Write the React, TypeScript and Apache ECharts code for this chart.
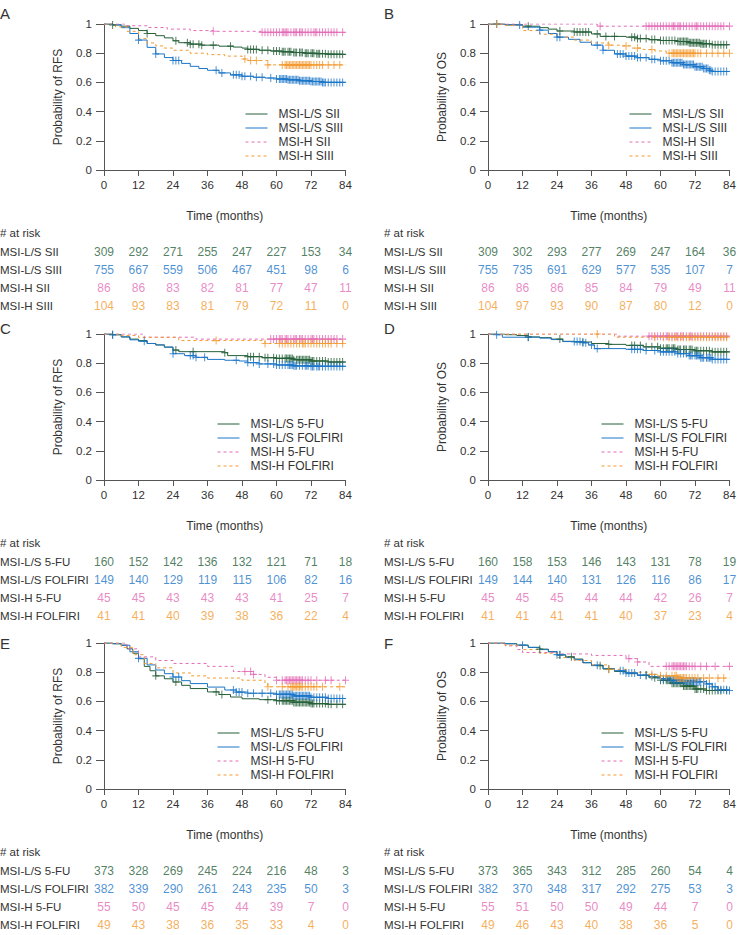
import React, { useEffect, useRef } from "react";
import * as echarts from "echarts";

const FONT = '"Liberation Sans", Arial, Helvetica, sans-serif';
const TEXT = "#333333";
const AXIS = "#555555";
const COLORS = ["#26603a", "#1c76c8", "#e36cb7", "#f39a30"];

const timeTicks = [0, 12, 24, 36, 48, 60, 72, 84];
const stageGroups = ["MSI-L/S SII", "MSI-L/S SIII", "MSI-H SII", "MSI-H SIII"];
const trtGroups = ["MSI-L/S 5-FU", "MSI-L/S FOLFIRI", "MSI-H 5-FU", "MSI-H FOLFIRI"];

// ---------- numbers at risk ----------
const riskA = [[309, 292, 271, 255, 247, 227, 153, 34], [755, 667, 559, 506, 467, 451, 98, 6], [86, 86, 83, 82, 81, 77, 47, 11], [104, 93, 83, 81, 79, 72, 11, 0]];
const riskB = [[309, 302, 293, 277, 269, 247, 164, 36], [755, 735, 691, 629, 577, 535, 107, 7], [86, 86, 86, 85, 84, 79, 49, 11], [104, 97, 93, 90, 87, 80, 12, 0]];
const riskC = [[160, 152, 142, 136, 132, 121, 71, 18], [149, 140, 129, 119, 115, 106, 82, 16], [45, 45, 43, 43, 43, 41, 25, 7], [41, 41, 40, 39, 38, 36, 22, 4]];
const riskD = [[160, 158, 153, 146, 143, 131, 78, 19], [149, 144, 140, 131, 126, 116, 86, 17], [45, 45, 45, 44, 44, 42, 26, 7], [41, 41, 41, 41, 40, 37, 23, 4]];
const riskE = [[373, 328, 269, 245, 224, 216, 48, 3], [382, 339, 290, 261, 243, 235, 50, 3], [55, 50, 45, 45, 44, 39, 7, 0], [49, 43, 38, 36, 35, 33, 4, 0]];
const riskF = [[373, 365, 343, 312, 285, 260, 54, 4], [382, 370, 348, 317, 292, 275, 53, 3], [55, 51, 50, 50, 49, 44, 7, 0], [49, 46, 43, 40, 38, 36, 5, 0]];

// ---------- survival curves [month, probability] ----------
const curveA1 = [[0, 1], [3, 0.993], [6, 0.985], [9, 0.97], [12, 0.955], [15, 0.935], [18, 0.92], [21, 0.905], [24, 0.885], [26, 0.872], [30, 0.862], [34, 0.855], [40, 0.848], [45, 0.842], [48, 0.835], [50, 0.826], [54, 0.82], [58, 0.815], [62, 0.81], [66, 0.805], [70, 0.8], [74, 0.796], [78, 0.792], [84, 0.792]];
const curveA2 = [[0, 1], [3, 0.995], [6, 0.975], [9, 0.935], [12, 0.89], [15, 0.84], [18, 0.795], [21, 0.77], [24, 0.75], [27, 0.73], [30, 0.71], [33, 0.695], [36, 0.683], [40, 0.665], [44, 0.652], [48, 0.642], [52, 0.635], [56, 0.63], [60, 0.623], [64, 0.618], [68, 0.612], [72, 0.606], [76, 0.6], [84, 0.598]];
const curveA3 = [[0, 1], [8, 0.988], [15, 0.976], [22, 0.965], [30, 0.955], [38, 0.95], [55, 0.943], [84, 0.943]];
const curveA4 = [[0, 1], [4, 0.98], [8, 0.95], [12, 0.9], [15, 0.87], [18, 0.85], [21, 0.835], [24, 0.82], [30, 0.8], [36, 0.79], [42, 0.78], [48, 0.76], [50, 0.75], [57, 0.72], [84, 0.72]];

const curveB1 = [[0, 1], [6, 0.995], [12, 0.985], [18, 0.975], [21, 0.965], [24, 0.952], [30, 0.945], [36, 0.932], [39, 0.915], [48, 0.91], [52, 0.9], [56, 0.893], [60, 0.887], [66, 0.88], [70, 0.872], [74, 0.865], [78, 0.858], [84, 0.855]];
const curveB2 = [[0, 1], [6, 0.993], [12, 0.978], [18, 0.958], [21, 0.935], [24, 0.91], [28, 0.895], [32, 0.875], [36, 0.855], [40, 0.82], [44, 0.795], [48, 0.78], [52, 0.77], [56, 0.758], [60, 0.748], [64, 0.735], [68, 0.722], [72, 0.708], [75, 0.695], [77, 0.683], [78, 0.675], [84, 0.675]];
const curveB3 = [[0, 1], [36, 1], [38, 0.985], [84, 0.985]];
const curveB4 = [[0, 1], [6, 0.99], [12, 0.955], [18, 0.93], [24, 0.91], [30, 0.89], [36, 0.87], [42, 0.855], [46, 0.85], [50, 0.835], [54, 0.825], [58, 0.815], [62, 0.8], [84, 0.8]];

const curveC1 = [[0, 1], [3, 0.995], [6, 0.98], [9, 0.965], [12, 0.955], [15, 0.935], [18, 0.925], [21, 0.91], [24, 0.89], [26, 0.879], [42, 0.872], [43, 0.852], [50, 0.845], [55, 0.838], [60, 0.833], [66, 0.824], [72, 0.815], [78, 0.808], [84, 0.804]];
const curveC2 = [[0, 1], [3, 0.995], [6, 0.98], [9, 0.96], [12, 0.95], [15, 0.935], [18, 0.925], [21, 0.91], [24, 0.865], [28, 0.852], [32, 0.84], [36, 0.826], [42, 0.82], [47, 0.815], [50, 0.804], [54, 0.795], [60, 0.788], [66, 0.782], [72, 0.778], [84, 0.776]];
const curveC3 = [[0, 1], [14, 0.978], [32, 0.965], [84, 0.965]];
const curveC4 = [[0, 1], [6, 0.99], [12, 0.977], [26, 0.955], [55, 0.955], [56, 0.935], [84, 0.935]];

const curveD1 = [[0, 1], [6, 0.995], [10, 0.99], [14, 0.98], [18, 0.975], [22, 0.965], [26, 0.95], [30, 0.945], [36, 0.935], [42, 0.929], [48, 0.922], [54, 0.912], [60, 0.902], [66, 0.894], [72, 0.885], [78, 0.878], [84, 0.874]];
const curveD2 = [[0, 1], [3, 0.995], [5, 0.978], [18, 0.972], [22, 0.962], [26, 0.948], [33, 0.94], [35, 0.925], [37, 0.9], [48, 0.895], [54, 0.887], [60, 0.878], [66, 0.866], [70, 0.852], [74, 0.838], [78, 0.826], [84, 0.824]];
const curveD3 = [[0, 1], [45, 0.985], [84, 0.985]];
const curveD4 = [[0, 1], [42, 1], [44, 0.978], [84, 0.978]];

const curveE1 = [[0, 1], [3, 0.995], [6, 0.985], [8, 0.96], [10, 0.93], [12, 0.892], [14, 0.84], [16, 0.81], [18, 0.775], [21, 0.755], [24, 0.733], [27, 0.71], [30, 0.688], [36, 0.665], [40, 0.647], [44, 0.63], [48, 0.618], [54, 0.612], [60, 0.605], [66, 0.593], [72, 0.585], [78, 0.58], [84, 0.578]];
const curveE2 = [[0, 1], [3, 0.995], [6, 0.985], [9, 0.94], [12, 0.895], [15, 0.85], [18, 0.815], [21, 0.79], [24, 0.767], [27, 0.742], [30, 0.722], [36, 0.698], [42, 0.678], [46, 0.664], [50, 0.656], [60, 0.648], [66, 0.638], [72, 0.628], [78, 0.62], [84, 0.618]];
const curveE3 = [[0, 1], [8, 0.96], [12, 0.905], [18, 0.88], [24, 0.86], [36, 0.84], [45, 0.805], [52, 0.785], [56, 0.765], [60, 0.745], [84, 0.745]];
const curveE4 = [[0, 1], [6, 0.97], [10, 0.92], [14, 0.86], [18, 0.83], [24, 0.795], [30, 0.775], [36, 0.76], [48, 0.745], [56, 0.72], [57, 0.7], [84, 0.7]];

const curveF1 = [[0, 1], [6, 0.995], [10, 0.985], [14, 0.97], [18, 0.958], [21, 0.94], [24, 0.918], [27, 0.905], [30, 0.89], [33, 0.865], [36, 0.845], [40, 0.822], [44, 0.805], [48, 0.79], [52, 0.778], [56, 0.762], [60, 0.745], [64, 0.725], [68, 0.705], [72, 0.685], [76, 0.675], [84, 0.67]];
const curveF2 = [[0, 1], [6, 0.995], [10, 0.985], [14, 0.97], [18, 0.955], [21, 0.94], [24, 0.92], [27, 0.9], [30, 0.885], [33, 0.865], [36, 0.848], [40, 0.825], [44, 0.81], [48, 0.795], [52, 0.78], [56, 0.77], [60, 0.755], [64, 0.745], [68, 0.74], [72, 0.735], [76, 0.72], [78, 0.7], [80, 0.68], [84, 0.675]];
const curveF3 = [[0, 1], [6, 0.98], [10, 0.955], [12, 0.935], [24, 0.925], [36, 0.915], [48, 0.893], [52, 0.87], [56, 0.84], [84, 0.84]];
const curveF4 = [[0, 1], [6, 0.985], [12, 0.955], [18, 0.93], [24, 0.9], [30, 0.88], [36, 0.85], [42, 0.82], [48, 0.8], [56, 0.785], [60, 0.775], [66, 0.76], [84, 0.76]];

// ---------- censoring times (months) ----------
const censA1 = [3, 15, 25, 29, 30, 31, 33, 34, 38, 44, 50, 51, 52, 53, 55, 57, 59, 60, 61, 62, 62.5, 63, 64, 64.5, 65, 66, 66.5, 67, 68, 68.5, 69, 70, 70.5, 71, 72, 72.5, 73, 74, 74.5, 75, 76, 77, 78, 79, 80, 81, 82, 83];
const censA2 = [12, 18, 24, 25, 26, 39, 41, 45, 46, 47, 48, 49, 51, 53, 55, 58, 60, 61, 61.5, 62, 62.5, 63, 63.5, 64, 64.5, 65, 65.5, 66, 66.5, 67, 67.5, 68, 68.5, 69, 69.5, 70, 70.5, 71, 71.5, 72, 72.5, 73, 73.5, 74, 74.5, 75, 75.5, 76, 76.5, 77, 78, 79, 80, 81, 82, 83];
const censA3 = [38, 55, 56, 57, 58, 59, 60, 61, 62, 62.5, 63, 63.5, 64, 65, 66, 66.5, 67, 68, 68.5, 69, 70, 71, 72, 73, 73.5, 74, 75, 76, 77, 78, 79, 80, 81, 83];
const censA4 = [49, 51, 53, 57, 62, 63, 63.5, 64, 64.5, 65, 65.5, 66, 66.5, 67, 67.5, 68, 68.5, 69, 69.5, 70, 70.5, 71, 71.5, 72, 73, 74, 75, 76, 78, 80, 82];

const censB1 = [3, 14, 25, 30, 31, 32, 33, 34, 35, 38, 41, 44, 50, 51, 52, 53, 55, 57, 58, 60, 61, 62, 63, 64, 65, 66, 66.5, 67, 67.5, 68, 68.5, 69, 69.5, 70, 70.5, 71, 71.5, 72, 72.5, 73, 73.5, 74, 74.5, 75, 75.5, 76, 77, 78, 79, 80, 81, 82, 83];
const censB2 = [3, 11, 18, 24, 25, 38, 40, 45, 46, 47, 48, 49, 50, 51, 52, 53, 55, 57, 58, 60, 61, 62, 63, 64, 64.5, 65, 65.5, 66, 66.5, 67, 67.5, 68, 68.5, 69, 69.5, 70, 70.5, 71, 71.5, 72, 72.5, 73, 73.5, 74, 74.5, 75, 75.5, 76, 76.5, 77, 77.5, 78, 79, 80, 81, 82, 83];
const censB3 = [39, 55, 56, 57, 58, 59, 60, 61, 62, 63, 64, 64.5, 65, 66, 66.5, 67, 68, 69, 70, 71, 72, 72.5, 73, 74, 75, 76, 77, 78, 79, 80, 81, 82, 84];
const censB4 = [3, 42, 48, 52, 57, 63, 64, 64.5, 65, 65.5, 66, 66.5, 67, 67.5, 68, 68.5, 69, 69.5, 70, 70.5, 71, 71.5, 72, 73, 74, 76, 78, 80, 82, 84];

const censC1 = [3, 25, 31, 42, 50, 51, 52, 54, 56, 57, 59, 60, 61, 62, 63, 63.5, 64, 64.5, 65, 65.5, 66, 67, 67.5, 68, 68.5, 69, 69.5, 70, 70.5, 71, 71.5, 72, 72.5, 73, 74, 75, 76, 77, 78, 79, 80, 81, 82, 83];
const censC2 = [3, 14, 24, 30, 31, 32, 35, 46, 50, 52, 54, 57, 59, 60, 61, 62, 63, 64, 64.5, 65, 65.5, 66, 66.5, 67, 68, 69, 70, 70.5, 71, 72, 72.5, 73, 74, 74.5, 75, 76, 77, 78, 79, 80, 81, 82, 83];
const censC3 = [58, 59, 60, 61, 61.5, 62, 63, 63.5, 64, 65, 66, 66.5, 67, 68, 68.5, 69, 70, 71, 72, 72.5, 73, 74, 75, 76, 77, 78, 79, 80, 81, 83];
const censC4 = [39, 56, 61, 62, 63, 64, 65, 66, 67, 68, 69, 69.5, 70, 71, 72, 73, 74, 75, 76, 77, 78, 79, 81, 83];

const censD1 = [14, 25, 33, 42, 50, 51, 53, 55, 57, 59, 60, 61, 62, 62.5, 63, 64, 64.5, 65, 66, 66.5, 67, 68, 68.5, 69, 70, 70.5, 71, 72, 72.5, 73, 74, 75, 76, 77, 78, 79, 80, 81, 82, 83];
const censD2 = [3, 14, 30, 31, 32, 33, 34, 36, 38, 50, 51, 52, 53, 55, 58, 60, 61, 62, 63, 64, 65, 66, 67, 68, 69, 70, 70.5, 71, 72, 72.5, 73, 73.5, 74, 74.5, 75, 76, 76.5, 77, 77.5, 78, 79, 80, 81, 82, 83];
const censD3 = [56, 57, 58, 59, 60, 61, 62, 62.5, 63, 64, 65, 65.5, 66, 67, 67.5, 68, 69, 70, 70.5, 71, 72, 73, 74, 75, 76, 77, 78, 79, 80, 81, 82, 83];
const censD4 = [38, 58, 61, 63, 64, 65, 66, 67, 68, 69, 70, 71, 72, 73, 74, 75, 76, 77, 78, 79, 80, 81, 82, 83];

const censE1 = [18, 25, 39, 41, 57, 60, 61, 62, 62.5, 63, 63.5, 64, 64.5, 65, 65.5, 66, 66.5, 67, 67.5, 68, 68.5, 69, 69.5, 70, 70.5, 71, 71.5, 72, 72.5, 73, 74, 75, 76, 77, 78, 79, 81, 83];
const censE2 = [12, 24, 26, 45, 46, 47, 48, 50, 52, 55, 58, 60, 61, 61.5, 62, 62.5, 63, 63.5, 64, 64.5, 65, 65.5, 66, 66.5, 67, 67.5, 68, 68.5, 69, 69.5, 70, 70.5, 71, 71.5, 72, 73, 74, 75, 76, 77, 78, 79, 80, 81, 82, 83];
const censE3 = [49, 51, 52, 60, 62, 63, 63.5, 64, 64.5, 65, 65.5, 66, 66.5, 67, 67.5, 68, 68.5, 69, 70, 71, 72, 74, 77, 79, 84];
const censE4 = [57, 62, 64, 65, 65.5, 66, 66.5, 67, 67.5, 68, 68.5, 69, 70, 71, 72, 73, 74, 76, 82];

const censF1 = [18, 25, 29, 39, 42, 55, 58, 60, 61, 62, 62.5, 63, 63.5, 64, 64.5, 65, 65.5, 66, 66.5, 67, 67.5, 68, 68.5, 69, 69.5, 70, 70.5, 71, 71.5, 72, 72.5, 73, 74, 75, 76, 77, 78, 79, 80, 81, 83];
const censF2 = [12, 24, 25, 38, 46, 47, 48, 49, 50, 51, 53, 55, 57, 60, 61, 62, 63, 64, 64.5, 65, 65.5, 66, 66.5, 67, 67.5, 68, 68.5, 69, 69.5, 70, 70.5, 71, 71.5, 72, 72.5, 73, 73.5, 74, 75, 76, 77, 78, 79, 80, 81, 82, 83, 84];
const censF3 = [49, 52, 62, 63, 64, 64.5, 65, 65.5, 66, 66.5, 67, 67.5, 68, 68.5, 69, 70, 71, 72, 74, 76, 79, 84];
const censF4 = [42, 57, 60, 62, 64, 65, 65.5, 66, 66.5, 67, 67.5, 68, 68.5, 69, 70, 71, 72, 73, 75, 77, 80, 82];

// ---------- panel definitions ----------
const panels = [
  { letter: "A", ylabel: "Probability of RFS", groups: stageGroups, curves: [curveA1, curveA2, curveA3, curveA4], cens: [censA1, censA2, censA3, censA4], risk: riskA },
  { letter: "B", ylabel: "Probability of OS", groups: stageGroups, curves: [curveB1, curveB2, curveB3, curveB4], cens: [censB1, censB2, censB3, censB4], risk: riskB },
  { letter: "C", ylabel: "Probability of RFS", groups: trtGroups, curves: [curveC1, curveC2, curveC3, curveC4], cens: [censC1, censC2, censC3, censC4], risk: riskC },
  { letter: "D", ylabel: "Probability of OS", groups: trtGroups, curves: [curveD1, curveD2, curveD3, curveD4], cens: [censD1, censD2, censD3, censD4], risk: riskD },
  { letter: "E", ylabel: "Probability of RFS", groups: trtGroups, curves: [curveE1, curveE2, curveE3, curveE4], cens: [censE1, censE2, censE3, censE4], risk: riskE },
  { letter: "F", ylabel: "Probability of OS", groups: trtGroups, curves: [curveF1, curveF2, curveF3, curveF4], cens: [censF1, censF2, censF3, censF4], risk: riskF },
];

// layout
const COL_X = [104, 488];
const ROW_OFF = [0, 310, 619];
const PLOT_TOP = 24;
const PLOT_W = 241.5;
const PLOT_H = 146;
const PLUS = "path://M3,0H4V3H7V4H4V7H3V4H0V3H3Z";

function survAt(curve: number[][], t: number): number {
  let s = curve[0][1];
  for (const p of curve) if (p[0] <= t) s = p[1];
  return s;
}

function buildOption() {
  const grid: any[] = [];
  const xAxis: any[] = [];
  const yAxis: any[] = [];
  const series: any[] = [];
  const legend: any[] = [];
  const graphic: any[] = [];

  panels.forEach((p, i) => {
    const col = i % 2;
    const row = Math.floor(i / 2);
    const left = COL_X[col];
    const off = ROW_OFF[row];
    const top = PLOT_TOP + off;
    const labelX = left - 104;
    const isStage = i < 2;

    grid.push({ left, top, width: PLOT_W, height: PLOT_H, containLabel: false, outerBoundsMode: "none" });
    grid.push({ left, top: 243 + off, width: PLOT_W, height: 72, containLabel: false, outerBoundsMode: "none" });

    xAxis.push({
      type: "value", gridIndex: 2 * i, min: 0, max: 84, interval: 12,
      name: "Time (months)", nameLocation: "middle", nameGap: 40, nameMoveOverlap: false,
      nameTextStyle: { fontSize: 12, color: TEXT, fontFamily: FONT },
      axisLine: { show: true, onZero: false, lineStyle: { color: AXIS, width: 1 } },
      axisTick: { show: true, length: 6, lineStyle: { color: AXIS } },
      axisLabel: { fontSize: 11.5, color: TEXT, fontFamily: FONT, margin: 9, hideOverlap: false },
      splitLine: { show: false },
    });
    yAxis.push({
      type: "value", gridIndex: 2 * i, min: 0, max: 1, interval: 0.2,
      name: p.ylabel, nameLocation: "middle", nameGap: 40, nameMoveOverlap: false,
      nameTextStyle: { fontSize: 12, color: TEXT, fontFamily: FONT },
      axisLine: { show: true, lineStyle: { color: AXIS, width: 1 } },
      axisTick: { show: true, length: 8, lineStyle: { color: AXIS } },
      axisLabel: { fontSize: 11.5, color: TEXT, fontFamily: FONT, margin: 12, hideOverlap: false },
      splitLine: { show: false },
    });
    xAxis.push({ type: "value", gridIndex: 2 * i + 1, min: 0, max: 84, show: false });
    yAxis.push({
      type: "category", gridIndex: 2 * i + 1, data: p.groups, inverse: true,
      axisLine: { show: false }, axisTick: { show: false }, splitLine: { show: false },
      axisLabel: { align: "left", margin: 104, fontSize: 11.5, color: TEXT, fontFamily: FONT },
    });

    p.groups.forEach((g, k) => {
      const color = COLORS[k];
      const dashed = k >= 2;
      series.push({
        type: "line", name: g, xAxisIndex: 2 * i, yAxisIndex: 2 * i,
        data: p.curves[k], step: "end", symbol: "none", showSymbol: false,
        lineStyle: { color, width: 1, type: dashed ? [3, 3] : "solid" },
        itemStyle: { color }, silent: true, z: 2,
      });
      series.push({
        type: "scatter", name: `${p.letter}-censor-${k}`, xAxisIndex: 2 * i, yAxisIndex: 2 * i,
        data: p.cens[k].map((t) => [t, survAt(p.curves[k], t)]),
        symbol: PLUS, symbolSize: [7, 8], itemStyle: { color }, silent: true, z: 3,
      });
      series.push({
        type: "scatter", name: `${p.letter}-risk-${k}`, xAxisIndex: 2 * i + 1, yAxisIndex: 2 * i + 1,
        data: timeTicks.map((t, j) => [t, g, p.risk[k][j]]),
        symbolSize: 1, itemStyle: { color: "transparent" }, silent: true,
        label: {
          show: true, position: "inside", formatter: (q: any) => String(q.value[2]),
          color, fontSize: 12, fontFamily: FONT,
        },
      });
    });

    legend.push({
      orient: "vertical", left: left + (isStage ? 141 : 113), top: top + 83, padding: 0,
      data: p.groups, itemWidth: 22, itemHeight: 10, itemGap: 0, selectedMode: false,
      itemStyle: { opacity: 0 },
      lineStyle: { width: 1 },
      textStyle: { fontSize: 12, color: TEXT, fontFamily: FONT, lineHeight: 14, padding: [0, 0, 0, 6] },
    });

    graphic.push({
      type: "text", x: labelX, y: 13 + row * 315,
      style: { text: p.letter, fontSize: 15, fontFamily: FONT, fill: TEXT, verticalAlign: "middle", align: "left" },
    });
    graphic.push({
      type: "text", x: labelX, y: 233 + off,
      style: { text: "# at risk", fontSize: 11.5, fontFamily: FONT, fill: TEXT, verticalAlign: "middle", align: "left" },
    });
  });

  return {
    animation: false,
    backgroundColor: "#ffffff",
    textStyle: { fontFamily: FONT },
    grid, xAxis, yAxis, series, legend, graphic,
  };
}

export default function App() {
  const ref = useRef<HTMLDivElement | null>(null);
  useEffect(() => {
    if (!ref.current) return;
    const chart = echarts.init(ref.current, null, { renderer: "svg" });
    chart.setOption(buildOption() as any);
    return () => chart.dispose();
  }, []);
  return <div ref={ref} style={{ position: "absolute", left: 0, top: 0, width: 738, height: 935 }} />;
}
